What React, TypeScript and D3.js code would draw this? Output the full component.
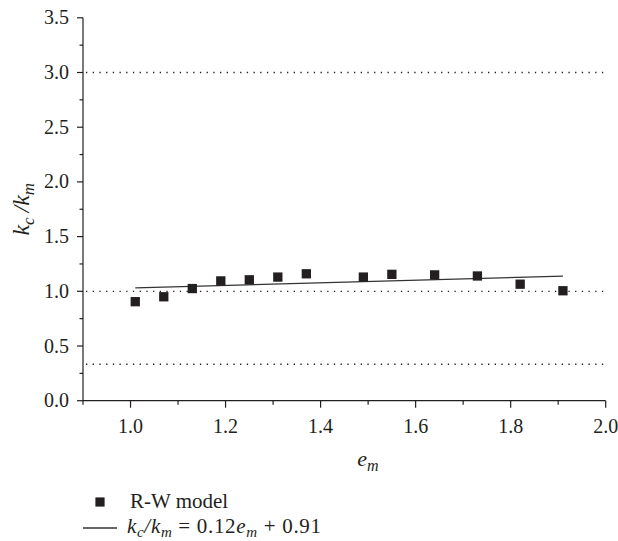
import React from "react";
import * as d3 from "d3";

const emValues = [1.01, 1.07, 1.13, 1.19, 1.25, 1.31, 1.37, 1.49, 1.55, 1.64, 1.73, 1.82, 1.91];
const ratioValues = [0.905, 0.95, 1.025, 1.095, 1.105, 1.13, 1.16, 1.13, 1.155, 1.15, 1.14, 1.065, 1.005];
const fitSlope = 0.12;
const fitIntercept = 0.91;
const fitRange = [1.01, 1.91];
const refLines = [3.0, 1.0, 1 / 3];
const xMajorTicks = [1.0, 1.2, 1.4, 1.6, 1.8, 2.0];
const xMinorTicks = [0.9, 1.1, 1.3, 1.5, 1.7, 1.9];
const yMajorTicks = [0, 0.5, 1.0, 1.5, 2.0, 2.5, 3.0, 3.5];
const yMinorTicks = [0.25, 0.75, 1.25, 1.75, 2.25, 2.75, 3.25];

const W = 618;
const H = 541;
const FONT = "'Liberation Serif', 'DejaVu Serif', serif";
const INK = "#231f20";

export default function App() {
  const x = d3.scaleLinear().domain([0.9, 2.0]).range([83, 605.7]);
  const y = d3.scaleLinear().domain([0, 3.5]).range([400.7, 17.8]);
  const fit = (v: number) => fitSlope * v + fitIntercept;
  const line = d3
    .line<number>()
    .x((d) => x(d))
    .y((d) => y(fit(d)));
  const sq = 9.3;

  return (
    <svg
      width={W}
      height={H}
      style={{ position: "absolute", left: 0, top: 0, background: "#fff" }}
      fontFamily={FONT}
    >
      <rect width={W} height={H} fill="#fff" />
      {/* reference dotted lines */}
      {refLines.map((r, i) => (
        <line
          key={"r" + i}
          x1={x(0.9) + 3}
          x2={x(2.0)}
          y1={y(r)}
          y2={y(r)}
          stroke={INK}
          strokeWidth={1.3}
          strokeDasharray="1.3,5.4"
        />
      ))}
      {/* axes */}
      <line x1={x(0.9)} x2={x(2.0)} y1={y(0)} y2={y(0)} stroke={INK} strokeWidth={1.2} />
      <line x1={x(0.9)} x2={x(0.9)} y1={y(0)} y2={y(3.5)} stroke={INK} strokeWidth={1.2} />
      {xMajorTicks.map((t) => (
        <g key={"xm" + t}>
          <line x1={x(t)} x2={x(t)} y1={y(0)} y2={y(0) + 7} stroke={INK} strokeWidth={1.2} />
          <text x={x(t)} y={433} textAnchor="middle" fontSize={20} fill={INK}>
            {t.toFixed(1)}
          </text>
        </g>
      ))}
      {xMinorTicks.map((t) => (
        <line key={"xn" + t} x1={x(t)} x2={x(t)} y1={y(0)} y2={y(0) + 4} stroke={INK} strokeWidth={1.2} />
      ))}
      {yMajorTicks.map((t) => (
        <g key={"ym" + t}>
          <line x1={x(0.9) - 6} x2={x(0.9)} y1={y(t)} y2={y(t)} stroke={INK} strokeWidth={1.2} />
          <text x={69} y={y(t) + 6.5} textAnchor="end" fontSize={20} fill={INK}>
            {t.toFixed(1)}
          </text>
        </g>
      ))}
      {yMinorTicks.map((t) => (
        <line key={"yn" + t} x1={x(0.9) - 3.5} x2={x(0.9)} y1={y(t)} y2={y(t)} stroke={INK} strokeWidth={1.2} />
      ))}
      {/* axis titles */}
      <text x={368} y={466} textAnchor="middle" fontSize={22} fontStyle="italic" fill={INK}>
        e<tspan fontSize={16} dy={5}>m</tspan>
      </text>
      <text
        transform={`translate(29, ${(y(0) + y(3.5)) / 2}) rotate(-90)`}
        textAnchor="middle"
        fontSize={24}
        fontStyle="italic"
        fill={INK}
      >
        k<tspan fontSize={17} dy={5}>c</tspan>
        <tspan dy={-5} fontSize={24}>{"\u2009/k"}</tspan>
        <tspan fontSize={17} dy={5}>m</tspan>
      </text>
      {/* fit line */}
      <path d={line(fitRange) || ""} fill="none" stroke="#333" strokeWidth={1.3} />
      {/* data */}
      {emValues.map((e, i) => (
        <rect
          key={"p" + i}
          x={x(e) - sq / 2}
          y={y(ratioValues[i]) - sq / 2}
          width={sq}
          height={sq}
          fill={INK}
        />
      ))}
      {/* legend */}
      <rect x={100 - 4.6} y={502 - 4.6} width={9.2} height={9.2} fill={INK} />
      <text x={130} y={508} fontSize={21} fill={INK}>
        R-W model
      </text>
      <line x1={83} x2={117} y1={528} y2={528} stroke="#333" strokeWidth={1.3} />
      <text x={127} y={533} fontSize={21} fill={INK} textLength={194} lengthAdjust="spacing">
        <tspan fontStyle="italic">k</tspan>
        <tspan fontStyle="italic" fontSize={15} dy={4}>c</tspan>
        <tspan dy={-4} fontStyle="italic">/k</tspan>
        <tspan fontStyle="italic" fontSize={15} dy={4}>m</tspan>
        <tspan dy={-4}> = 0.12</tspan>
        <tspan fontStyle="italic">e</tspan>
        <tspan fontStyle="italic" fontSize={15} dy={4}>m</tspan>
        <tspan dy={-4}> + 0.91</tspan>
      </text>
    </svg>
  );
}
